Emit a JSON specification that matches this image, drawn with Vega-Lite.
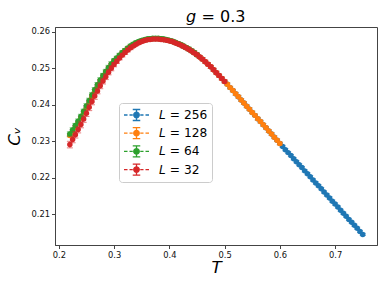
{
"$schema": "https://vega.github.io/schema/vega-lite/v6.json",
"width": 322, "height": 218,
"autosize": {"type": "none"},
"padding": {"left": 55, "top": 27, "right": 9, "bottom": 45},
"config": {
 "font": "DejaVu Sans",
 "view": {"stroke": "#444", "strokeWidth": 1},
 "axis": {"grid": false, "domainColor": "#444", "tickColor": "#444", "labelColor": "#111", "labelFontSize": 8.33, "tickSize": 3.5, "labelPadding": 2, "titleColor": "#000", "titleFontWeight": "normal", "titleFontSize": 16.7, "titleFontStyle": "italic"},
 "legend": {"labelFontSize": 12.2, "labelColor": "#000"}
},
"title": {"text": "𝘨 = 0.3", "fontSize": 16, "fontWeight": "normal", "color": "#000", "baseline": "bottom", "offset": 1, "frame": "group", "dy": 15},
"data": {"values": [
{"L":"256","T":0.22,"C":0.2318,"e":0.0003},{"L":"256","T":0.225,"C":0.2329,"e":0.0003},{"L":"256","T":0.23,"C":0.2341,"e":0.0003},{"L":"256","T":0.235,"C":0.2353,"e":0.0003},{"L":"256","T":0.24,"C":0.2366,"e":0.0003},{"L":"256","T":0.245,"C":0.238,"e":0.0003},{"L":"256","T":0.25,"C":0.2395,"e":0.0003},{"L":"256","T":0.255,"C":0.241,"e":0.0003},{"L":"256","T":0.26,"C":0.2425,"e":0.0003},{"L":"256","T":0.265,"C":0.2439,"e":0.0003},{"L":"256","T":0.27,"C":0.2453,"e":0.0003},{"L":"256","T":0.275,"C":0.2466,"e":0.0003},{"L":"256","T":0.28,"C":0.2478,"e":0.0003},{"L":"256","T":0.285,"C":0.2489,"e":0.0003},{"L":"256","T":0.29,"C":0.25,"e":0.0003},{"L":"256","T":0.295,"C":0.251,"e":0.0003},{"L":"256","T":0.3,"C":0.2519,"e":0.0003},{"L":"256","T":0.305,"C":0.2527,"e":0.0003},{"L":"256","T":0.31,"C":0.2535,"e":0.0003},{"L":"256","T":0.315,"C":0.2542,"e":0.0003},{"L":"256","T":0.32,"C":0.2549,"e":0.0003},{"L":"256","T":0.325,"C":0.2555,"e":0.0003},{"L":"256","T":0.33,"C":0.256,"e":0.0003},{"L":"256","T":0.335,"C":0.2565,"e":0.0003},{"L":"256","T":0.34,"C":0.2569,"e":0.0003},{"L":"256","T":0.345,"C":0.2572,"e":0.0003},{"L":"256","T":0.35,"C":0.2575,"e":0.0003},{"L":"256","T":0.355,"C":0.2577,"e":0.0003},{"L":"256","T":0.36,"C":0.2579,"e":0.0003},{"L":"256","T":0.365,"C":0.258,"e":0.0003},{"L":"256","T":0.37,"C":0.2581,"e":0.0003},{"L":"256","T":0.375,"C":0.2581,"e":0.0003},{"L":"256","T":0.38,"C":0.2581,"e":0.0003},{"L":"256","T":0.385,"C":0.258,"e":0.0003},{"L":"256","T":0.39,"C":0.2579,"e":0.0003},{"L":"256","T":0.395,"C":0.2578,"e":0.0003},{"L":"256","T":0.4,"C":0.2576,"e":0.0003},{"L":"256","T":0.405,"C":0.2574,"e":0.0003},{"L":"256","T":0.41,"C":0.2571,"e":0.0003},{"L":"256","T":0.415,"C":0.2568,"e":0.0003},{"L":"256","T":0.42,"C":0.2565,"e":0.0003},{"L":"256","T":0.425,"C":0.2561,"e":0.0003},{"L":"256","T":0.43,"C":0.2557,"e":0.0003},{"L":"256","T":0.435,"C":0.2553,"e":0.0003},{"L":"256","T":0.44,"C":0.2548,"e":0.0003},{"L":"256","T":0.445,"C":0.2543,"e":0.0003},{"L":"256","T":0.45,"C":0.2537,"e":0.0003},{"L":"256","T":0.455,"C":0.2531,"e":0.0003},{"L":"256","T":0.46,"C":0.2525,"e":0.0003},{"L":"256","T":0.465,"C":0.2518,"e":0.0003},{"L":"256","T":0.47,"C":0.2511,"e":0.0003},{"L":"256","T":0.475,"C":0.2504,"e":0.0003},{"L":"256","T":0.48,"C":0.2496,"e":0.0003},{"L":"256","T":0.485,"C":0.2488,"e":0.0003},{"L":"256","T":0.49,"C":0.248,"e":0.0003},{"L":"256","T":0.495,"C":0.2472,"e":0.0003},{"L":"256","T":0.5,"C":0.2464,"e":0.0003},{"L":"256","T":0.505,"C":0.2456,"e":0.0003},{"L":"256","T":0.51,"C":0.2447,"e":0.0003},{"L":"256","T":0.515,"C":0.2439,"e":0.0003},{"L":"256","T":0.52,"C":0.243,"e":0.0003},{"L":"256","T":0.525,"C":0.2422,"e":0.0003},{"L":"256","T":0.53,"C":0.2413,"e":0.0003},{"L":"256","T":0.535,"C":0.2405,"e":0.0003},{"L":"256","T":0.54,"C":0.2396,"e":0.0003},{"L":"256","T":0.545,"C":0.2388,"e":0.0003},{"L":"256","T":0.55,"C":0.2379,"e":0.0003},{"L":"256","T":0.555,"C":0.2371,"e":0.0003},{"L":"256","T":0.56,"C":0.2362,"e":0.0003},{"L":"256","T":0.565,"C":0.2354,"e":0.0003},{"L":"256","T":0.57,"C":0.2345,"e":0.0003},{"L":"256","T":0.575,"C":0.2337,"e":0.0003},{"L":"256","T":0.58,"C":0.2328,"e":0.0003},{"L":"256","T":0.585,"C":0.232,"e":0.0003},{"L":"256","T":0.59,"C":0.2311,"e":0.0003},{"L":"256","T":0.595,"C":0.2303,"e":0.0003},{"L":"256","T":0.6,"C":0.2294,"e":0.0003},{"L":"256","T":0.605,"C":0.2286,"e":0.0003},{"L":"256","T":0.61,"C":0.2277,"e":0.0003},{"L":"256","T":0.615,"C":0.2269,"e":0.0003},{"L":"256","T":0.62,"C":0.2261,"e":0.0003},{"L":"256","T":0.625,"C":0.2252,"e":0.0003},{"L":"256","T":0.63,"C":0.2244,"e":0.0003},{"L":"256","T":0.635,"C":0.2236,"e":0.0003},{"L":"256","T":0.64,"C":0.2228,"e":0.0003},{"L":"256","T":0.645,"C":0.2219,"e":0.0003},{"L":"256","T":0.65,"C":0.2211,"e":0.0003},{"L":"256","T":0.655,"C":0.2203,"e":0.0003},{"L":"256","T":0.66,"C":0.2194,"e":0.0003},{"L":"256","T":0.665,"C":0.2186,"e":0.0003},{"L":"256","T":0.67,"C":0.2178,"e":0.0003},{"L":"256","T":0.675,"C":0.217,"e":0.0003},{"L":"256","T":0.68,"C":0.2161,"e":0.0003},{"L":"256","T":0.685,"C":0.2153,"e":0.0003},{"L":"256","T":0.69,"C":0.2145,"e":0.0003},{"L":"256","T":0.695,"C":0.2136,"e":0.0003},{"L":"256","T":0.7,"C":0.2128,"e":0.0003},{"L":"256","T":0.705,"C":0.212,"e":0.0003},{"L":"256","T":0.71,"C":0.2111,"e":0.0003},{"L":"256","T":0.715,"C":0.2103,"e":0.0003},{"L":"256","T":0.72,"C":0.2095,"e":0.0003},{"L":"256","T":0.725,"C":0.2086,"e":0.0003},{"L":"256","T":0.73,"C":0.2078,"e":0.0003},{"L":"256","T":0.735,"C":0.207,"e":0.0003},{"L":"256","T":0.74,"C":0.2062,"e":0.0003},{"L":"256","T":0.745,"C":0.2053,"e":0.0003},{"L":"256","T":0.75,"C":0.2045,"e":0.0003},
{"L":"128","T":0.22,"C":0.2316,"e":0.0004},{"L":"128","T":0.225,"C":0.2327,"e":0.0004},{"L":"128","T":0.23,"C":0.2339,"e":0.0004},{"L":"128","T":0.235,"C":0.2351,"e":0.0004},{"L":"128","T":0.24,"C":0.2364,"e":0.0004},{"L":"128","T":0.245,"C":0.2378,"e":0.0004},{"L":"128","T":0.25,"C":0.2393,"e":0.0004},{"L":"128","T":0.255,"C":0.2408,"e":0.0004},{"L":"128","T":0.26,"C":0.2423,"e":0.0004},{"L":"128","T":0.265,"C":0.2438,"e":0.0004},{"L":"128","T":0.27,"C":0.2452,"e":0.0004},{"L":"128","T":0.275,"C":0.2465,"e":0.0004},{"L":"128","T":0.28,"C":0.2477,"e":0.0004},{"L":"128","T":0.285,"C":0.2489,"e":0.0004},{"L":"128","T":0.29,"C":0.25,"e":0.0004},{"L":"128","T":0.295,"C":0.251,"e":0.0004},{"L":"128","T":0.3,"C":0.2519,"e":0.0004},{"L":"128","T":0.305,"C":0.2527,"e":0.0004},{"L":"128","T":0.31,"C":0.2535,"e":0.0004},{"L":"128","T":0.315,"C":0.2542,"e":0.0004},{"L":"128","T":0.32,"C":0.2549,"e":0.0004},{"L":"128","T":0.325,"C":0.2555,"e":0.0004},{"L":"128","T":0.33,"C":0.256,"e":0.0004},{"L":"128","T":0.335,"C":0.2565,"e":0.0004},{"L":"128","T":0.34,"C":0.2569,"e":0.0004},{"L":"128","T":0.345,"C":0.2572,"e":0.0004},{"L":"128","T":0.35,"C":0.2575,"e":0.0004},{"L":"128","T":0.355,"C":0.2577,"e":0.0004},{"L":"128","T":0.36,"C":0.2579,"e":0.0004},{"L":"128","T":0.365,"C":0.258,"e":0.0004},{"L":"128","T":0.37,"C":0.2581,"e":0.0004},{"L":"128","T":0.375,"C":0.2581,"e":0.0004},{"L":"128","T":0.38,"C":0.2581,"e":0.0004},{"L":"128","T":0.385,"C":0.258,"e":0.0004},{"L":"128","T":0.39,"C":0.2579,"e":0.0004},{"L":"128","T":0.395,"C":0.2578,"e":0.0004},{"L":"128","T":0.4,"C":0.2576,"e":0.0004},{"L":"128","T":0.405,"C":0.2574,"e":0.0004},{"L":"128","T":0.41,"C":0.2571,"e":0.0004},{"L":"128","T":0.415,"C":0.2568,"e":0.0004},{"L":"128","T":0.42,"C":0.2565,"e":0.0004},{"L":"128","T":0.425,"C":0.2561,"e":0.0004},{"L":"128","T":0.43,"C":0.2557,"e":0.0004},{"L":"128","T":0.435,"C":0.2553,"e":0.0004},{"L":"128","T":0.44,"C":0.2548,"e":0.0004},{"L":"128","T":0.445,"C":0.2543,"e":0.0004},{"L":"128","T":0.45,"C":0.2537,"e":0.0004},{"L":"128","T":0.455,"C":0.2531,"e":0.0004},{"L":"128","T":0.46,"C":0.2525,"e":0.0004},{"L":"128","T":0.465,"C":0.2518,"e":0.0004},{"L":"128","T":0.47,"C":0.2511,"e":0.0004},{"L":"128","T":0.475,"C":0.2504,"e":0.0004},{"L":"128","T":0.48,"C":0.2496,"e":0.0004},{"L":"128","T":0.485,"C":0.2488,"e":0.0004},{"L":"128","T":0.49,"C":0.248,"e":0.0004},{"L":"128","T":0.495,"C":0.2472,"e":0.0004},{"L":"128","T":0.5,"C":0.2464,"e":0.0004},{"L":"128","T":0.505,"C":0.2456,"e":0.0004},{"L":"128","T":0.51,"C":0.2447,"e":0.0004},{"L":"128","T":0.515,"C":0.2439,"e":0.0004},{"L":"128","T":0.52,"C":0.243,"e":0.0004},{"L":"128","T":0.525,"C":0.2422,"e":0.0004},{"L":"128","T":0.53,"C":0.2413,"e":0.0004},{"L":"128","T":0.535,"C":0.2405,"e":0.0004},{"L":"128","T":0.54,"C":0.2396,"e":0.0004},{"L":"128","T":0.545,"C":0.2388,"e":0.0004},{"L":"128","T":0.55,"C":0.2379,"e":0.0004},{"L":"128","T":0.555,"C":0.2371,"e":0.0004},{"L":"128","T":0.56,"C":0.2362,"e":0.0004},{"L":"128","T":0.565,"C":0.2354,"e":0.0004},{"L":"128","T":0.57,"C":0.2345,"e":0.0004},{"L":"128","T":0.575,"C":0.2337,"e":0.0004},{"L":"128","T":0.58,"C":0.2328,"e":0.0004},{"L":"128","T":0.585,"C":0.232,"e":0.0004},{"L":"128","T":0.59,"C":0.2311,"e":0.0004},{"L":"128","T":0.595,"C":0.2303,"e":0.0004},{"L":"128","T":0.6,"C":0.2294,"e":0.0004},
{"L":"64","T":0.22,"C":0.232,"e":0.0006},{"L":"64","T":0.225,"C":0.2331,"e":0.0006},{"L":"64","T":0.23,"C":0.2343,"e":0.0006},{"L":"64","T":0.235,"C":0.2355,"e":0.0006},{"L":"64","T":0.24,"C":0.2368,"e":0.0006},{"L":"64","T":0.245,"C":0.2382,"e":0.0006},{"L":"64","T":0.25,"C":0.2397,"e":0.0006},{"L":"64","T":0.255,"C":0.2412,"e":0.0006},{"L":"64","T":0.26,"C":0.2427,"e":0.0006},{"L":"64","T":0.265,"C":0.2441,"e":0.0006},{"L":"64","T":0.27,"C":0.2455,"e":0.0006},{"L":"64","T":0.275,"C":0.2468,"e":0.0006},{"L":"64","T":0.28,"C":0.248,"e":0.0006},{"L":"64","T":0.285,"C":0.2491,"e":0.0006},{"L":"64","T":0.29,"C":0.2502,"e":0.0006},{"L":"64","T":0.295,"C":0.2512,"e":0.0006},{"L":"64","T":0.3,"C":0.2521,"e":0.0005},{"L":"64","T":0.305,"C":0.2528,"e":0.0005},{"L":"64","T":0.31,"C":0.2536,"e":0.0005},{"L":"64","T":0.315,"C":0.2543,"e":0.0005},{"L":"64","T":0.32,"C":0.2549,"e":0.0005},{"L":"64","T":0.325,"C":0.2555,"e":0.0005},{"L":"64","T":0.33,"C":0.2561,"e":0.0005},{"L":"64","T":0.335,"C":0.2566,"e":0.0005},{"L":"64","T":0.34,"C":0.257,"e":0.0005},{"L":"64","T":0.345,"C":0.2573,"e":0.0005},{"L":"64","T":0.35,"C":0.2576,"e":0.0005},{"L":"64","T":0.355,"C":0.2578,"e":0.0005},{"L":"64","T":0.36,"C":0.258,"e":0.0005},{"L":"64","T":0.365,"C":0.2581,"e":0.0005},{"L":"64","T":0.37,"C":0.2582,"e":0.0005},{"L":"64","T":0.375,"C":0.2582,"e":0.0005},{"L":"64","T":0.38,"C":0.2582,"e":0.0005},{"L":"64","T":0.385,"C":0.2581,"e":0.0005},{"L":"64","T":0.39,"C":0.258,"e":0.0005},{"L":"64","T":0.395,"C":0.2578,"e":0.0005},{"L":"64","T":0.4,"C":0.2576,"e":0.0005},{"L":"64","T":0.405,"C":0.2574,"e":0.0005},{"L":"64","T":0.41,"C":0.2571,"e":0.0005},{"L":"64","T":0.415,"C":0.2568,"e":0.0005},{"L":"64","T":0.42,"C":0.2565,"e":0.0005},{"L":"64","T":0.425,"C":0.2561,"e":0.0005},{"L":"64","T":0.43,"C":0.2557,"e":0.0005},{"L":"64","T":0.435,"C":0.2553,"e":0.0005},{"L":"64","T":0.44,"C":0.2548,"e":0.0005},{"L":"64","T":0.445,"C":0.2543,"e":0.0005},{"L":"64","T":0.45,"C":0.2537,"e":0.0005},
{"L":"32","T":0.22,"C":0.2291,"e":0.0009},{"L":"32","T":0.225,"C":0.2305,"e":0.0009},{"L":"32","T":0.23,"C":0.2318,"e":0.0009},{"L":"32","T":0.235,"C":0.2332,"e":0.0009},{"L":"32","T":0.24,"C":0.2346,"e":0.0009},{"L":"32","T":0.245,"C":0.2361,"e":0.0009},{"L":"32","T":0.25,"C":0.2377,"e":0.0009},{"L":"32","T":0.255,"C":0.2393,"e":0.0009},{"L":"32","T":0.26,"C":0.2409,"e":0.0009},{"L":"32","T":0.265,"C":0.2424,"e":0.0009},{"L":"32","T":0.27,"C":0.2438,"e":0.0008},{"L":"32","T":0.275,"C":0.2452,"e":0.0008},{"L":"32","T":0.28,"C":0.2465,"e":0.0008},{"L":"32","T":0.285,"C":0.2477,"e":0.0008},{"L":"32","T":0.29,"C":0.2489,"e":0.0007},{"L":"32","T":0.295,"C":0.25,"e":0.0007},{"L":"32","T":0.3,"C":0.251,"e":0.0006},{"L":"32","T":0.305,"C":0.2519,"e":0.0006},{"L":"32","T":0.31,"C":0.2528,"e":0.0005},{"L":"32","T":0.315,"C":0.2536,"e":0.0005},{"L":"32","T":0.32,"C":0.2543,"e":0.0005},{"L":"32","T":0.325,"C":0.255,"e":0.0005},{"L":"32","T":0.33,"C":0.2556,"e":0.0005},{"L":"32","T":0.335,"C":0.2561,"e":0.0004},{"L":"32","T":0.34,"C":0.2566,"e":0.0004},{"L":"32","T":0.345,"C":0.257,"e":0.0004},{"L":"32","T":0.35,"C":0.2573,"e":0.0004},{"L":"32","T":0.355,"C":0.2576,"e":0.0004},{"L":"32","T":0.36,"C":0.2578,"e":0.0004},{"L":"32","T":0.365,"C":0.2579,"e":0.0004},{"L":"32","T":0.37,"C":0.258,"e":0.0004},{"L":"32","T":0.375,"C":0.258,"e":0.0004},{"L":"32","T":0.38,"C":0.258,"e":0.0004},{"L":"32","T":0.385,"C":0.2579,"e":0.0004},{"L":"32","T":0.39,"C":0.2578,"e":0.0004},{"L":"32","T":0.395,"C":0.2577,"e":0.0004},{"L":"32","T":0.4,"C":0.2575,"e":0.0004},{"L":"32","T":0.405,"C":0.2573,"e":0.0004},{"L":"32","T":0.41,"C":0.257,"e":0.0004},{"L":"32","T":0.415,"C":0.2567,"e":0.0004},{"L":"32","T":0.42,"C":0.2564,"e":0.0004},{"L":"32","T":0.425,"C":0.256,"e":0.0004},{"L":"32","T":0.43,"C":0.2556,"e":0.0004},{"L":"32","T":0.435,"C":0.2552,"e":0.0004},{"L":"32","T":0.44,"C":0.2547,"e":0.0004},{"L":"32","T":0.445,"C":0.2542,"e":0.0004},{"L":"32","T":0.45,"C":0.2537,"e":0.0004},{"L":"32","T":0.455,"C":0.2531,"e":0.0004},{"L":"32","T":0.46,"C":0.2525,"e":0.0004},{"L":"32","T":0.465,"C":0.2518,"e":0.0004},{"L":"32","T":0.47,"C":0.2511,"e":0.0004},{"L":"32","T":0.475,"C":0.2504,"e":0.0004},{"L":"32","T":0.48,"C":0.2496,"e":0.0004},{"L":"32","T":0.485,"C":0.2488,"e":0.0004},{"L":"32","T":0.49,"C":0.248,"e":0.0004},{"L":"32","T":0.495,"C":0.2472,"e":0.0004},{"L":"32","T":0.5,"C":0.2464,"e":0.0004}
]},
"encoding": {
 "x": {"field": "T", "type": "quantitative", "scale": {"domain": [0.1931, 0.7758], "nice": false, "zero": false}, "axis": {"values": [0.2, 0.3, 0.4, 0.5, 0.6, 0.7], "format": ".1f", "title": "T", "titlePadding": 1}},
 "y": {"field": "C", "type": "quantitative", "scale": {"domain": [0.2016, 0.2613], "nice": false, "zero": false}, "axis": {"values": [0.21, 0.22, 0.23, 0.24, 0.25, 0.26], "format": ".2f", "title": "Cᵥ", "titlePadding": 7}},
 "color": {"field": "L", "type": "nominal", "scale": {"domain": ["256", "128", "64", "32"], "range": ["#1f77b4", "#ff7f0e", "#2ca02c", "#d62728"]},
  "legend": {"title": null, "orient": "none", "legendX": 64, "legendY": 76, "fillColor": "rgba(255,255,255,0.8)", "strokeColor": "#cccccc", "cornerRadius": 3, "padding": 4, "labelExpr": "'𝘓 = ' + datum.label", "labelOffset": 9, "symbolSize": 625, "clipHeight": 16, "rowPadding": 2.2, "symbolStrokeWidth": 1.3, "symbolOpacity": 1,
   "symbolType": "M-1,0H-0.72M-0.56,0H-0.3M0.3,0H0.56M0.72,0H1M0,-0.44V0.44M-0.3,-0.44H0.3M-0.3,0.44H0.3M0.22,0A0.22,0.22 0 1 1 -0.22,0A0.22,0.22 0 1 1 0.22,0Z",
   "encode": {"symbols": {"update": {"stroke": {"scale": "color", "field": "value"}, "fill": {"scale": "color", "field": "value"}}}}}}
},
"layer": [
 {"transform": [{"filter": {"field": "L", "equal": "256"}}], "layer": [
  {"mark": {"type": "errorbar", "ticks": {"size": 6, "opacity": 0.6}, "rule": {"opacity": 0.6}}, "encoding": {"yError": {"field": "e"}}},
  {"mark": {"type": "line", "strokeDash": [4, 2], "strokeWidth": 1}},
  {"mark": {"type": "point", "filled": true, "size": 30, "opacity": 1}}]},
 {"transform": [{"filter": {"field": "L", "equal": "128"}}], "layer": [
  {"mark": {"type": "errorbar", "ticks": {"size": 6, "opacity": 0.6}, "rule": {"opacity": 0.6}}, "encoding": {"yError": {"field": "e"}}},
  {"mark": {"type": "line", "strokeDash": [4, 2], "strokeWidth": 1}},
  {"mark": {"type": "point", "filled": true, "size": 30, "opacity": 1}}]},
 {"transform": [{"filter": {"field": "L", "equal": "64"}}], "layer": [
  {"mark": {"type": "errorbar", "ticks": {"size": 6, "opacity": 0.6}, "rule": {"opacity": 0.6}}, "encoding": {"yError": {"field": "e"}}},
  {"mark": {"type": "line", "strokeDash": [4, 2], "strokeWidth": 1}},
  {"mark": {"type": "point", "filled": true, "size": 30, "opacity": 1}}]},
 {"transform": [{"filter": {"field": "L", "equal": "32"}}], "layer": [
  {"mark": {"type": "errorbar", "ticks": {"size": 6, "opacity": 0.6}, "rule": {"opacity": 0.6}}, "encoding": {"yError": {"field": "e"}}},
  {"mark": {"type": "line", "strokeDash": [4, 2], "strokeWidth": 1}},
  {"mark": {"type": "point", "filled": true, "size": 30, "opacity": 1}}]}
]
}
